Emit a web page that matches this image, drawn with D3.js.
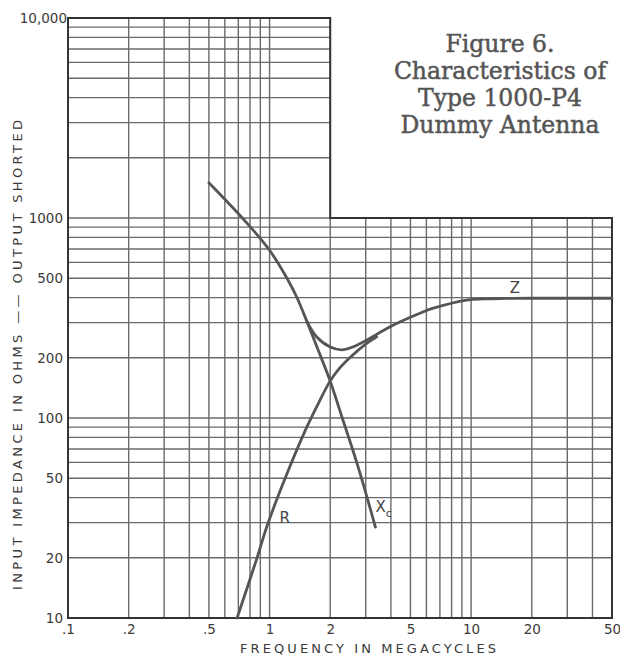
<!DOCTYPE html>
<html><head><meta charset="utf-8">
<script src="https://cdn.jsdelivr.net/npm/d3@7"></script>
<style>body{margin:0;background:#fff}svg{display:block}</style>
</head><body><svg id="c" width="620" height="656"></svg>
<script>
// ---- data ----
const xTickValues = [0.1, 0.2, 0.5, 1, 2, 5, 10, 20, 50];
const xTickLabels = [".1", ".2", ".5", "1", "2", "5", "10", "20", "50"];
const yTickValues = [10, 20, 50, 100, 200, 500, 1000, 10000];
const yTickLabels = ["10", "20", "50", "100", "200", "500", "1000", "10,000"];

const xcFreq = [0.5, 0.6, 0.75, 1.0, 1.22, 1.36, 1.53, 1.75, 1.99, 2.28, 2.75, 3.35];
const xcOhms = [1500, 1240, 975, 690, 500, 405, 305, 216, 155, 102, 57, 28.5];

const rFreq = [0.69, 0.86, 0.985, 1.26, 1.53, 1.78, 1.99, 2.2, 2.5, 3.03, 3.4];
const rOhms = [10, 19.5, 30, 57, 90, 123, 152, 175, 200, 236, 255];

const zFreq = [1.53, 1.71, 1.99, 2.28, 2.6, 3.03, 3.96, 5.57, 6.49, 9.5, 11.5, 15, 20, 30, 50];
const zOhms = [305, 255, 227, 219, 227, 245, 286, 334, 354, 389, 394, 396, 397, 397, 397];

const titleLines = ["Figure 6.", "Characteristics of", "Type 1000-P4", "Dummy Antenna"];
const xTitle = "FREQUENCY IN MEGACYCLES";
const yTitle = "INPUT IMPEDANCE IN OHMS —— OUTPUT SHORTED";
const xSplitFreq = 2, ySplitOhms = 1000;

// ---- chart ----
const svg = d3.select("#c");
const x = d3.scaleLog().domain([0.1, 50]).range([68, 612]);
const y = d3.scaleLog().domain([10, 10000]).range([618, 18]);

const gridColor = "#6a6a6a", inkColor = "#333";
const g = svg.append("g");

// horizontal grid
g.selectAll("line.h").data(y.ticks()).join("line")
  .attr("x1", x(0.1))
  .attr("x2", d => d > ySplitOhms ? x(xSplitFreq) : x(50))
  .attr("y1", d => y(d)).attr("y2", d => y(d))
  .attr("stroke", gridColor).attr("stroke-width", 1.4);

// vertical grid
g.selectAll("line.v").data(x.ticks()).join("line")
  .attr("x1", d => x(d)).attr("x2", d => x(d))
  .attr("y1", d => d <= xSplitFreq ? y(10000) : y(ySplitOhms))
  .attr("y2", y(10))
  .attr("stroke", gridColor).attr("stroke-width", 1.4);

// stepped border
const bp = d3.path();
bp.moveTo(x(0.1), y(10000));
bp.lineTo(x(xSplitFreq), y(10000));
bp.lineTo(x(xSplitFreq), y(ySplitOhms));
bp.lineTo(x(50), y(ySplitOhms));
bp.lineTo(x(50), y(10));
bp.lineTo(x(0.1), y(10));
bp.closePath();
g.append("path").attr("d", bp.toString()).attr("fill", "none")
  .attr("stroke", inkColor).attr("stroke-width", 2);

// axes (labels only)
const fontAxis = "DejaVu Sans, sans-serif";
const ax = svg.append("g").attr("transform", `translate(0,${y(10)})`)
  .call(d3.axisBottom(x).tickValues(xTickValues).tickFormat((d, i) => xTickLabels[i]).tickSize(0).tickPadding(6));
const ay = svg.append("g").attr("transform", `translate(${x(0.1)},0)`)
  .call(d3.axisLeft(y).tickValues(yTickValues).tickFormat((d, i) => yTickLabels[i]).tickSize(0).tickPadding(5));
[ax, ay].forEach(a => {
  a.select(".domain").remove();
  a.selectAll("text").attr("font-family", fontAxis).attr("font-size", 13.5).attr("fill", "#3a3a3a");
});
ay.selectAll("text").filter(d => d === 10000).attr("dx", 4);

// axis titles
svg.append("text").attr("x", 368).attr("y", 653)
  .attr("text-anchor", "middle").attr("font-family", fontAxis).attr("font-size", 13)
  .attr("fill", "#3a3a3a").attr("textLength", 256).attr("lengthAdjust", "spacing")
  .text(xTitle);
svg.append("text").attr("transform", "translate(22,355) rotate(-90)")
  .attr("text-anchor", "middle").attr("font-family", fontAxis).attr("font-size", 13)
  .attr("fill", "#3a3a3a").attr("textLength", 470).attr("lengthAdjust", "spacing")
  .text(yTitle);

// figure title
svg.append("g").selectAll("text").data(titleLines).join("text")
  .attr("x", 500).attr("y", (d, i) => 52 + i * 27)
  .attr("text-anchor", "middle").attr("font-family", "DejaVu Serif, serif")
  .attr("font-size", 23.5).attr("fill", "#555")
  .attr("stroke", "#555").attr("stroke-width", 0.5)
  .text(d => d);

// curves
const line = d3.line().x(d => x(d[0])).y(d => y(d[1])).curve(d3.curveCatmullRom.alpha(0.5));
const curves = [
  d3.zip(xcFreq, xcOhms),
  d3.zip(rFreq, rOhms),
  d3.zip(zFreq, zOhms)
];
svg.append("g").selectAll("path").data(curves).join("path")
  .attr("d", line).attr("fill", "none").attr("stroke", "#555")
  .attr("stroke-width", 2.8).attr("stroke-linecap", "round");

// curve labels
const lab = svg.append("g").attr("font-family", fontAxis).attr("fill", "#444").attr("font-size", 15);
lab.append("text").attr("x", x(16.5)).attr("y", y(420)).attr("text-anchor", "middle").text("Z");
lab.append("text").attr("x", x(1.19)).attr("y", y(30)).attr("text-anchor", "middle").text("R");
const xc = lab.append("text").attr("x", x(3.35)).attr("y", y(34)).attr("text-anchor", "start");
xc.append("tspan").text("X");
xc.append("tspan").attr("font-size", 11).attr("dy", 5).text("c");
</script></body></html>
